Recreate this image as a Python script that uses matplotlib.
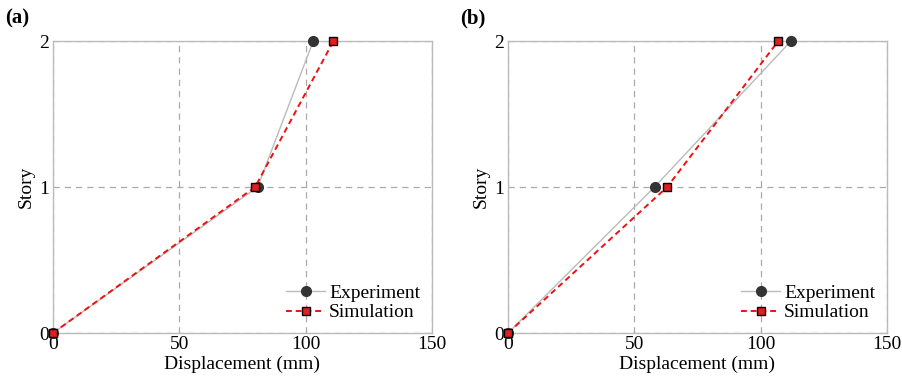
import matplotlib
matplotlib.use("Agg")
import matplotlib.pyplot as plt

story = [0, 1, 2]
exp_a = [0, 81, 103]
sim_a = [0, 80, 111]
exp_b = [0, 58, 112]
sim_b = [0, 63, 107]
xticks = [0, 50, 100, 150]
yticks = [0, 1, 2]
panels = ["(a)", "(b)"]

plt.rcParams['font.family'] = ['Liberation Serif', 'DejaVu Serif']

fig = plt.figure(figsize=(9.03, 3.78), dpi=100)
lefts = [53/903, 508/903]
w = 379/903
b = 45/378
h = 292/378

for i, (ex, sim) in enumerate([(exp_a, sim_a), (exp_b, sim_b)]):
    ax = fig.add_axes([lefts[i], b, w, h])
    ax.plot(ex, story, color='#bbbbbb', lw=1.0, marker='o', ms=7,
            mfc='#333333', mec='#333333', label='Experiment', zorder=3)
    ax.plot(sim, story, color='#ee1111', lw=1.4, ls='--', dashes=(3, 2), marker='s', ms=6,
            mfc='#e02020', mec='black', mew=1.0, label='Simulation', zorder=4)
    ax.set_xlim(0, 150)
    ax.set_ylim(0, 2)
    ax.set_xticks(xticks)
    ax.set_yticks(yticks)
    ax.grid(True, ls=(0, (5, 4)), color='#aaaaaa', lw=0.9)
    for s in ax.spines.values():
        s.set_color('#bbbbbb')
        s.set_linewidth(1.0)
    ax.tick_params(axis='x', length=0, labelsize=14, pad=2)
    ax.tick_params(axis='y', length=0, labelsize=14, pad=3)
    ax.set_xlabel('Displacement (mm)', fontsize=14, labelpad=2)
    ax.set_ylabel('Story', fontsize=14, labelpad=3)
    for ln in ax.lines:
        ln.set_clip_on(False)
    leg = ax.legend(loc='lower right', frameon=False, fontsize=14, handlelength=2.0,
                    handletextpad=0.2, borderaxespad=0.2, labelspacing=0.1)
    fig.text(lefts[i] - 48/903, 1 - 18/378, panels[i], fontsize=15, fontweight='bold',
             va='center', ha='left')

fig.savefig('out.png', dpi=100)
